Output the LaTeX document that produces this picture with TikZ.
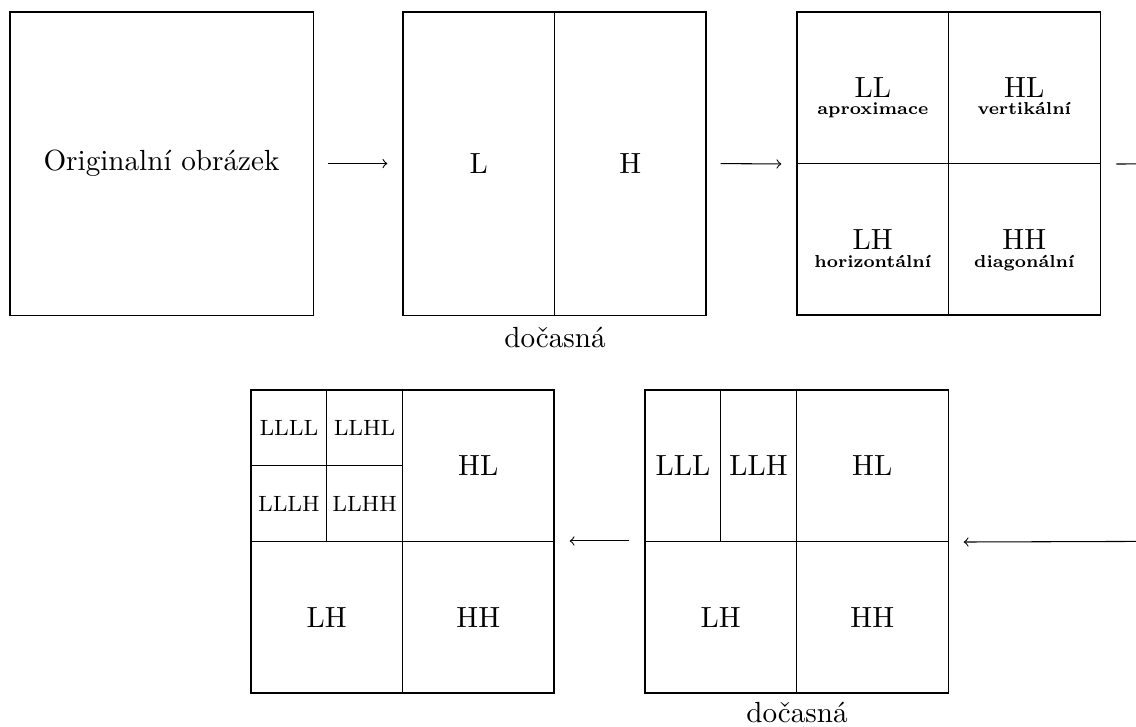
\documentclass[tikz,border=0pt]{standalone}
\usetikzlibrary{arrows}
\begin{document}
\begin{tikzpicture}[x=0.0132cm,y=-0.0132cm,
  cell/.style={draw, line width=0.4pt, inner sep=0pt, align=center, font=\fontsize{10.95}{13}\selectfont},
  big/.style={cell, minimum width=4cm, minimum height=4cm},
  half/.style={cell, minimum width=2cm, minimum height=4cm},
  quad/.style={cell, minimum width=2cm, minimum height=2cm},
  small/.style={cell, minimum width=1cm, minimum height=1cm, font=\fontsize{8.3}{10}\selectfont},
  tall/.style={cell, minimum width=1cm, minimum height=2cm},
  sub/.style={font=\fontsize{6.5}{7}\selectfont\bfseries, inner sep=0pt, anchor=base},
  arr/.style={->, line width=0.4pt},
  lbl/.style={font=\fontsize{10.95}{13}\selectfont, inner sep=0pt}]
\useasboundingbox (0,0) rectangle (1136,726);
\clip (0,0) rectangle (1136,726);
% row 1
\node[big] (orig) at (161.5,163.5) {Originalní obrázek};
\node[half] (L) at (478.75,163.5) {L};
\node[half] (H) at (630.25,163.5) {H};
\node[lbl] (doc1) at (555,337) {dočasná};
\node[quad] (LL) at (872.75,87.75) {LL};
\node[quad] (HL) at (1024.25,87.75) {HL};
\node[quad] (LH) at (872.75,239.25) {LH};
\node[quad] (HH) at (1024.25,239.25) {HH};
\node[sub] (sLL) at (872.75,114) {aproximace};
\node[sub] (sHL) at (1024.25,114) {vertikální};
\node[sub] (sLH) at (872.75,267) {horizontální};
\node[sub] (sHH) at (1024.25,267) {diagonální};
\coordinate (out1) at (1260,163.5);
\draw[arr, shorten <=0.185cm, shorten >=0.2cm] (orig.east) -- (L.west);
\draw[arr, shorten <=0.185cm, shorten >=0.2cm] (H.east) -- (LL.south west);
\draw[arr, shorten <=0.21cm] (HL.south east) -- (out1);
% row 2, right box
\node[tall] (LLL) at (682.9,465.75) {LLL};
\node[tall] (LLH) at (758.6,465.75) {LLH};
\node[quad] (HL5) at (872.25,465.75) {HL};
\node[quad] (LH5) at (720.75,617.25) {LH};
\node[quad] (HH5) at (872.25,617.25) {HH};
\node[lbl] (doc2) at (797,712) {dočasná};
% row 2, left box
\node[small] (LLLL) at (288.9,427.9) {LLLL};
\node[small] (LLHL) at (364.6,427.9) {LLHL};
\node[small] (LLLH) at (288.9,503.6) {LLLH};
\node[small] (LLHH) at (364.6,503.6) {LLHH};
\node[quad] (HL4) at (478.25,465.75) {HL};
\node[quad] (LH4) at (326.75,617.25) {LH};
\node[quad] (HH4) at (478.25,617.25) {HH};
\coordinate (in2) at (1260,541);
\draw[arr, shorten >=0.2cm] (in2) -- (HL5.south east);
\draw[arr, shorten <=0.2cm, shorten >=0.2cm] (LH5.north west) -- (HH4.north east);
\end{tikzpicture}
\end{document}
